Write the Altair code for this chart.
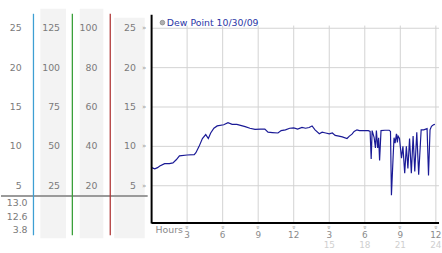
import altair as alt
import pandas as pd

# ---------------- data ----------------
hours = [0, 0.27, 0.5, 0.69, 1.1, 1.5, 1.8, 2.08, 2.35, 3.0, 3.6, 3.74, 4.01, 4.29,
         4.57, 4.79, 4.99, 5.26, 5.54, 6.09, 6.45, 6.8, 7.2, 7.9, 8.3, 8.73, 9.2,
         9.56, 9.83, 10.2, 10.67, 10.94, 11.3, 11.66, 12.0, 12.33, 12.7, 13.0, 13.3,
         13.55, 13.8, 14.16, 14.4, 14.7, 15.0, 15.26, 15.5, 15.82, 16.1, 16.5, 16.7,
         16.92, 17.1, 17.34, 17.55, 17.76, 17.98, 18.3, 18.45, 18.54, 18.62, 18.79,
         18.9, 18.98, 19.09, 19.17, 19.25, 19.37, 19.7, 20.06, 20.17, 20.25, 20.39,
         20.47, 20.56, 20.67, 20.75, 20.81, 20.93, 21.1, 21.22, 21.37, 21.51, 21.64,
         21.78, 21.93, 22.08, 22.22, 22.39, 22.55, 22.76, 22.97, 23.26, 23.38, 23.51,
         23.63, 23.8, 23.92]
dew_point = [7.3, 7.15, 7.3, 7.5, 7.8, 7.8, 7.9, 8.3, 8.8, 8.9, 8.95, 9.2, 10.0, 11.0,
             11.5, 11.0, 11.7, 12.3, 12.6, 12.75, 13.0, 12.8, 12.8, 12.5, 12.3, 12.15, 12.2,
             12.2, 11.8, 11.75, 11.7, 12.0, 12.1, 12.3, 12.35, 12.2, 12.4, 12.3, 12.4,
             12.6, 12.1, 11.6, 11.8, 11.7, 11.6, 11.7, 11.4, 11.3, 11.2, 11.0, 11.3,
             11.55, 11.9, 12.1, 12.0, 12.0, 12.0, 12.0, 11.9, 8.4, 12.0, 11.1,
             9.8, 12.0, 9.8, 11.1, 8.2, 12.0, 12.05, 12.05, 11.9, 3.8, 8.6,
             11.1, 10.4, 11.6, 10.5, 11.3, 11.0, 8.5, 10.0, 6.6, 10.0, 7.2,
             11.0, 6.6, 11.3, 6.8, 11.8, 6.4, 12.1, 12.1, 12.25, 6.3, 12.1,
             12.55, 12.75, 12.8]

y_ticks = [25, 20, 15, 10, 5]
col1_labels = ["25", "20", "15", "10", "5"]
col2_labels = ["125", "100", "75", "50", "25"]
col3_labels = ["100", "80", "60", "40", "20"]
col4_labels = ["25", "20", "15", "10", "5"]
current_values = ["13.0", "12.6", "3.8"]

x_ticks = [3, 6, 9, 12, 15, 18, 21, 24]
x_labels = ["3", "6", "9", "12", "3", "6", "9", "12"]
x_ticks2 = [15, 18, 21, 24]
x_labels2 = ["15", "18", "21", "24"]

series_name = "Dew Point 10/30/09"

# ---------------- setup ----------------
FONT = "DejaVu Sans"
FS = 9.5
H = 225
GRID = "#d2d2d2"
yscale = alt.Scale(domain=[0.21, 28.34], nice=False, zero=False)
xscale = alt.Scale(domain=[0, 24.27], nice=False, zero=False)

one = pd.DataFrame({"a": [0]})
ydf = pd.DataFrame({"v": y_ticks, "c1": col1_labels, "c2": col2_labels,
                    "c3": col3_labels, "c4": col4_labels})
line_df = pd.DataFrame({"h": hours, "v": dew_point})
xt = pd.DataFrame({"h": x_ticks, "lab": x_labels})
xt2 = pd.DataFrame({"h": x_ticks2, "lab": x_labels2})
ygrid = pd.DataFrame({"v": y_ticks})

# ---------------- left panel ----------------
def band(x1, x2, y1):
    return alt.Chart(one).mark_rect(color="#f3f3f3").encode(
        x=alt.value(x1), x2=alt.value(x2), y=alt.value(y1), y2=alt.value(240))

def vline(x, color):
    return alt.Chart(one).mark_rule(color=color, strokeWidth=1.3).encode(
        x=alt.value(x), y=alt.value(12), y2=alt.value(237))

def col_text(field, xr):
    return alt.Chart(ydf).mark_text(align="right", baseline="middle", font=FONT,
                                    fontSize=FS, color="#7a7a7a").encode(
        x=alt.value(xr), y=alt.Y("v:Q", scale=yscale, axis=None), text=f"{field}:N")

left_layers = [
    band(40, 66, 7), band(80, 104, 7), band(115, 146, 16),
    alt.Chart(one).mark_rule(color="#9a9a9a", strokeWidth=2).encode(
        x=alt.value(0), x2=alt.value(149), y=alt.value(197)),
    vline(33, "#3d9fd3"), vline(72.5, "#3aa03a"), vline(111, "#b03838"),
    col_text("c1", 21), col_text("c2", 60), col_text("c3", 98), col_text("c4", 137),
    alt.Chart(ydf).mark_text(align="center", baseline="middle", font=FONT,
                             fontSize=7, color="#9a9a9a").encode(
        x=alt.value(145.5), y=alt.Y("v:Q", scale=yscale, axis=None), text=alt.value("»")),
]
for lab, yy in zip(current_values, [204, 218.5, 232]):
    left_layers.append(
        alt.Chart(one).mark_text(align="right", baseline="middle", font=FONT,
                                 fontSize=FS, color="#7a7a7a").encode(
            x=alt.value(27), y=alt.value(yy), text=alt.value(lab)))

left = alt.layer(*left_layers).properties(width=149, height=H)

# ---------------- main panel ----------------
hgrid = alt.Chart(ygrid).mark_rule(color=GRID, strokeWidth=1).encode(
    y=alt.Y("v:Q", scale=yscale, axis=None), x=alt.value(0), x2=alt.value(292))
vgrid = alt.Chart(xt).mark_rule(color=GRID, strokeWidth=1).encode(
    x=alt.X("h:Q", scale=xscale, axis=None), y=alt.value(24), y2=alt.value(H))
yaxis_line = alt.Chart(one).mark_rule(color="black", strokeWidth=2).encode(
    x=alt.value(0), y=alt.value(13), y2=alt.value(H))
xaxis_line = alt.Chart(one).mark_rule(color="black", strokeWidth=2).encode(
    x=alt.value(0), x2=alt.value(292), y=alt.value(224.5))

series = alt.Chart(line_df).mark_line(color="#1a1a96", strokeWidth=1.2).encode(
    x=alt.X("h:Q", scale=xscale, axis=None),
    y=alt.Y("v:Q", scale=yscale, axis=None))

leg_dot = alt.Chart(one).mark_point(filled=True, fill="#b0b0b0", stroke="#888888",
                                    strokeWidth=0.8, size=22, opacity=1).encode(
    x=alt.value(11), y=alt.value(21))
leg_text = alt.Chart(one).mark_text(align="left", baseline="middle", font=FONT,
                                    fontSize=FS, color="#2a36a6").encode(
    x=alt.value(15.5), y=alt.value(21), text=alt.value(series_name))

xlab = alt.Chart(xt).mark_text(align="center", baseline="alphabetic", font=FONT,
                               fontSize=9, color="#8a8a8a").encode(
    x=alt.X("h:Q", scale=xscale, axis=None), y=alt.value(240), text="lab:N")
xmark = alt.Chart(xt).mark_text(align="center", baseline="middle", font=FONT,
                                fontSize=6.5, angle=90, color="#9a9a9a").encode(
    x=alt.X("h:Q", scale=xscale, axis=None), y=alt.value(229), text=alt.value("»"))
xlab2 = alt.Chart(xt2).mark_text(align="center", baseline="alphabetic", font=FONT,
                                 fontSize=9, color="#cfcfcf").encode(
    x=alt.X("h:Q", scale=xscale, axis=None), y=alt.value(250), text="lab:N")
hours_text = alt.Chart(one).mark_text(align="left", baseline="alphabetic", font=FONT,
                                      fontSize=FS, color="#8a8a8a").encode(
    x=alt.value(4), y=alt.value(235), text=alt.value("Hours"))

main = alt.layer(hgrid, vgrid, series, yaxis_line, xaxis_line, leg_dot, leg_text,
                 xlab, xmark, xlab2, hours_text).properties(width=292, height=H)

chart = alt.hconcat(left, main, spacing=0).properties(
    padding={"left": 0, "right": 0, "top": 0, "bottom": 0},
    background="white",
).configure_view(stroke=None)

chart.save("out.html", embed_options={"renderer": "svg", "actions": False})
